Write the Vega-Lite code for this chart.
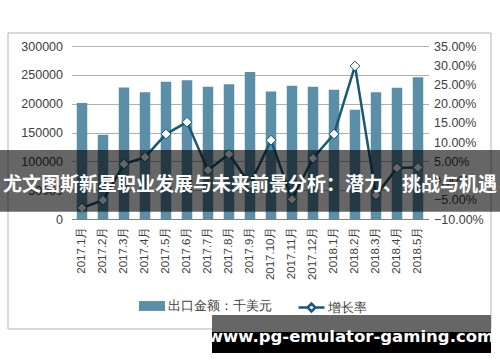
{
  "$schema": "https://vega.github.io/schema/vega-lite/v6.json",
  "width": 357,
  "height": 173,
  "autosize": {"type": "none"},
  "padding": {"left": 71.5, "top": 46, "right": 71.5, "bottom": 143},
  "background": "white",
  "config": {
    "view": {"stroke": null},
    "font": "Liberation Sans",
    "axis": {"labelFont": "Liberation Sans", "labelColor": "#404040", "title": null},
    "legend": {"labelFont": "Liberation Sans", "labelFontSize": 13, "labelColor": "#404040", "title": null, "padding": 0}
  },
  "layer": [
    {
      "data": {"values": [{"k": "frame"}]},
      "mark": {"type": "rect", "fill": null, "stroke": "#b3b3b3", "strokeWidth": 1},
      "encoding": {
        "x": {"value": -63.5}, "x2": {"value": 419.5},
        "y": {"value": -13}, "y2": {"value": 283}
      }
    },
    {
      "data": {"name": "trade", "values": [
        {"month": "2017.1月", "export": 201000, "growth": -0.071},
        {"month": "2017.2月", "export": 146000, "growth": -0.051},
        {"month": "2017.3月", "export": 228000, "growth": 0.043},
        {"month": "2017.4月", "export": 220000, "growth": 0.061},
        {"month": "2017.5月", "export": 238000, "growth": 0.121},
        {"month": "2017.6月", "export": 240500, "growth": 0.152},
        {"month": "2017.7月", "export": 229500, "growth": 0.027},
        {"month": "2017.8月", "export": 233500, "growth": 0.069},
        {"month": "2017.9月", "export": 255000, "growth": -0.010},
        {"month": "2017.10月", "export": 221000, "growth": 0.105},
        {"month": "2017.11月", "export": 231000, "growth": -0.049},
        {"month": "2017.12月", "export": 229500, "growth": 0.058},
        {"month": "2018.1月", "export": 224000, "growth": 0.121},
        {"month": "2018.2月", "export": 189500, "growth": 0.298},
        {"month": "2018.3月", "export": 220000, "growth": -0.038},
        {"month": "2018.4月", "export": 227700, "growth": 0.033},
        {"month": "2018.5月", "export": 246000, "growth": 0.034}
      ]},
      "layer": [
        {
          "mark": {"type": "bar"},
          "encoding": {
            "x": {
              "field": "month", "type": "ordinal", "sort": null,
              "scale": {"paddingInner": 0.5, "paddingOuter": 0.25},
              "axis": {"labelAngle": -90, "labelFontSize": 11.5, "labelPadding": 7, "ticks": false, "domainColor": "#808080", "domainWidth": 1}
            },
            "y": {
              "field": "export", "type": "quantitative",
              "scale": {"domain": [0, 300000], "nice": false},
              "axis": {"values": [0, 50000, 100000, 150000, 200000, 250000, 300000], "format": "d", "labelFontSize": 12.5, "labelPadding": 9, "ticks": false, "domain": false, "grid": true, "gridColor": "#b0b0b0"}
            },
            "color": {
              "datum": "出口金额：千美元",
              "scale": {"range": ["#5b8fa7"]},
              "legend": {
                "orient": "none", "legendX": 67.5, "legendY": 247,
                "symbolType": "M-1,-0.38H1V0.38H-1Z", "symbolSize": 676, "symbolStrokeWidth": 0, "labelOffset": 3
              }
            }
          }
        },
        {
          "mark": {
            "type": "line", "strokeWidth": 2.5,
            "point": {"shape": "diamond", "filled": true, "fill": "white", "stroke": "#2a6a84", "strokeWidth": 1, "size": 95, "opacity": 1}
          },
          "encoding": {
            "x": {"field": "month", "type": "ordinal", "sort": null},
            "y": {
              "field": "growth", "type": "quantitative",
              "scale": {"domain": [-0.1, 0.35], "nice": false},
              "axis": {"orient": "right", "values": [-0.1, -0.05, 0, 0.05, 0.1, 0.15, 0.2, 0.25, 0.3, 0.35], "format": ".2%", "labelFontSize": 12.5, "labelPadding": 5, "ticks": false, "domain": false, "grid": false}
            },
            "stroke": {
              "datum": "增长率",
              "scale": {"range": ["#195a72"]},
              "legend": {
                "orient": "none", "legendX": 225.5, "legendY": 247,
                "symbolType": "M-1,0H-0.3M0.3,0H1M-0.3,0L0,-0.3L0.3,0L0,0.3Z", "symbolSize": 676, "symbolStrokeWidth": 2.5, "symbolFillColor": "white", "labelOffset": 2,
                "encode": {"symbols": {"update": {"fill": {"value": "white"}}}}
              }
            }
          }
        }
      ],
      "resolve": {"scale": {"y": "independent"}}
    },
    {
      "data": {"values": [{"label": "尤文图斯新星职业发展与未来前景分析：潜力、挑战与机遇"}]},
      "layer": [
        {
          "mark": {"type": "rect", "fill": "black", "opacity": 0.6},
          "encoding": {"x": {"value": -71.5}, "x2": {"value": 428.5}, "y": {"value": 104}, "y2": {"value": 165.7}}
        },
        {
          "mark": {"type": "text", "font": "Noto Sans CJK SC", "fontWeight": "bold", "fontSize": 19, "color": "white", "align": "center", "baseline": "middle"},
          "encoding": {"x": {"value": 178.5}, "y": {"value": 139}, "text": {"field": "label"}}
        }
      ]
    },
    {
      "data": {"values": [{"label": "www.pg-emulator-gaming.com"}]},
      "layer": [
        {
          "mark": {"type": "rect", "fill": "#666666"},
          "encoding": {"x": {"value": 140.5}, "x2": {"value": 419.5}, "y": {"value": 269}, "y2": {"value": 286}}
        },
        {
          "mark": {"type": "rect", "fill": "black"},
          "encoding": {"x": {"value": 140.5}, "x2": {"value": 419.5}, "y": {"value": 286}, "y2": {"value": 307}}
        },
        {
          "mark": {"type": "text", "font": "DejaVu Sans", "fontWeight": "bold", "fontSize": 16.5, "color": "white", "align": "center", "baseline": "middle"},
          "encoding": {"x": {"value": 279.5}, "y": {"value": 291}, "text": {"field": "label"}}
        }
      ]
    }
  ]
}
